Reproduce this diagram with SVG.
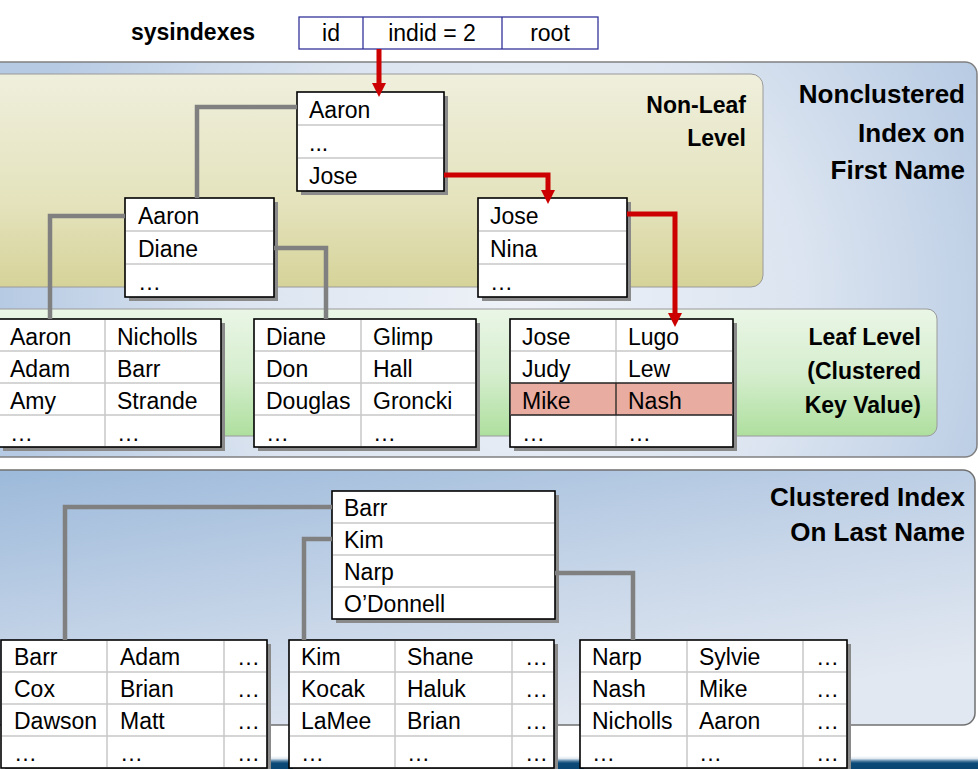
<svg xmlns="http://www.w3.org/2000/svg" width="978" height="769" viewBox="0 0 978 769">
<style>
text{font-family:"Liberation Sans",Arial,sans-serif;fill:#000}
.t{font-size:23px}
.b{font-weight:bold}
.box{fill:#fff;stroke:#000;stroke-width:1.6}
.sh{fill:#8a8a8a}
.rl{stroke:#c8c8c8;stroke-width:1.5;fill:none}
.gc{fill:none;stroke:#808080;stroke-width:4.5}
.rc{fill:none;stroke:#cc0000;stroke-width:5}
.sys{fill:#fff;stroke:#33339a;stroke-width:1.3}
</style>
<defs>
<radialGradient id="gTop" cx="520" cy="300" r="520" gradientUnits="userSpaceOnUse">
<stop offset="0" stop-color="#eef2f8"/>
<stop offset="0.55" stop-color="#dbe4f0"/>
<stop offset="1" stop-color="#b6cae3"/>
</radialGradient>
<linearGradient id="gBot" x1="0" y1="0" x2="0.6" y2="1">
<stop offset="0" stop-color="#9cb9da"/>
<stop offset="0.6" stop-color="#c9d7e9"/>
<stop offset="1" stop-color="#e2e8f1"/>
</linearGradient>
<linearGradient id="gNL" x1="0" y1="0" x2="0" y2="1">
<stop offset="0" stop-color="#efefdd"/>
<stop offset="0.6" stop-color="#e4e3bd"/>
<stop offset="1" stop-color="#d6d399"/>
</linearGradient>
<linearGradient id="gLeaf" x1="0" y1="0" x2="0" y2="1">
<stop offset="0" stop-color="#eaf6e6"/>
<stop offset="0.5" stop-color="#d6eecf"/>
<stop offset="1" stop-color="#aedf9e"/>
</linearGradient>
<linearGradient id="gFoot" x1="0" y1="756" x2="0" y2="769" gradientUnits="userSpaceOnUse">
<stop offset="0" stop-color="#ffffff"/>
<stop offset="0.2" stop-color="#dfe8ef"/>
<stop offset="0.4" stop-color="#4a7aa0"/>
<stop offset="0.55" stop-color="#0b4a78"/>
<stop offset="1" stop-color="#0a4573"/>
</linearGradient>
<marker id="ah" viewBox="0 0 14 14" refX="0" refY="7" markerWidth="14" markerHeight="14" markerUnits="userSpaceOnUse" orient="auto">
<path d="M0,0 L14,7 L0,14 z" fill="#cc0000"/>
</marker>
</defs>

<g id="backgrounds">
<rect x="268" y="756" width="720" height="14" fill="url(#gFoot)"/>
<rect x="-20" y="62" width="997" height="395" rx="12" fill="url(#gTop)" stroke="#808080" stroke-width="1.5"/>
<rect x="-20" y="74" width="783" height="213" rx="12" fill="url(#gNL)" stroke="#9a9a9a" stroke-width="1"/>
<rect x="-20" y="309" width="957" height="127" rx="10" fill="url(#gLeaf)" stroke="#9a9a9a" stroke-width="1"/>
<rect x="-20" y="470" width="995" height="255" rx="12" fill="url(#gBot)" stroke="#707070" stroke-width="1.5"/>
</g>

<g id="labels">
<text class="b" x="131" y="40" font-size="23">sysindexes</text>
<text class="b" font-size="26" text-anchor="end" x="965" y="103">Nonclustered</text>
<text class="b" font-size="26" text-anchor="end" x="965" y="142">Index on</text>
<text class="b" font-size="26" text-anchor="end" x="965" y="179">First Name</text>
<text class="b" font-size="23" text-anchor="end" x="746" y="113">Non-Leaf</text>
<text class="b" font-size="23" text-anchor="end" x="746" y="146">Level</text>
<text class="b" font-size="23" text-anchor="end" x="921" y="345">Leaf Level</text>
<text class="b" font-size="23" text-anchor="end" x="921" y="379">(Clustered</text>
<text class="b" font-size="23" text-anchor="end" x="921" y="413">Key Value)</text>
<text class="b" font-size="26" text-anchor="end" x="965" y="506">Clustered Index</text>
<text class="b" font-size="26" text-anchor="end" x="965" y="541">On Last Name</text>
</g>

<g id="sysindexes-row">
<rect class="sys" x="299" y="17" width="299" height="32"/>
<path d="M363,17V49M502,17V49" stroke="#33339a" stroke-width="1.3"/>
<text class="t" x="331" y="41" text-anchor="middle">id</text>
<text class="t" x="432" y="41" text-anchor="middle">indid = 2</text>
<text class="t" x="550" y="41" text-anchor="middle">root</text>
</g>

<g id="nc-root">
<rect class="sh" x="301" y="96" width="147" height="99"/>
<rect class="box" x="297" y="92" width="147" height="99"/>
<path class="rl" d="M298,125H443M298,158H443"/>
<text class="t" x="309" y="118">Aaron</text>
<text class="t" x="309" y="151">...</text>
<text class="t" x="309" y="184">Jose</text>
</g>

<g id="nc-mid-left">
<rect class="sh" x="129" y="202" width="149" height="99"/>
<rect class="box" x="125" y="198" width="149" height="99"/>
<path class="rl" d="M126,231H273M126,264H273"/>
<text class="t" x="138" y="224">Aaron</text>
<text class="t" x="138" y="257">Diane</text>
<text class="t" x="138" y="290">…</text>
</g>

<g id="nc-mid-right">
<rect class="sh" x="482" y="202" width="149" height="99"/>
<rect class="box" x="478" y="198" width="149" height="99"/>
<path class="rl" d="M479,231H626M479,264H626"/>
<text class="t" x="490" y="224">Jose</text>
<text class="t" x="490" y="257">Nina</text>
<text class="t" x="490" y="290">…</text>
</g>

<g id="leaf-1">
<rect class="sh" x="3" y="323" width="222" height="128"/>
<rect class="box" x="-1" y="319" width="222" height="128"/>
<path class="rl" d="M0,351H220M0,383H220M0,415H220M105,320V446"/>
<text class="t" x="10" y="345">Aaron</text><text class="t" x="117" y="345">Nicholls</text>
<text class="t" x="10" y="377">Adam</text><text class="t" x="117" y="377">Barr</text>
<text class="t" x="10" y="409">Amy</text><text class="t" x="117" y="409">Strande</text>
<text class="t" x="10" y="441">…</text><text class="t" x="117" y="441">…</text>
</g>

<g id="leaf-2">
<rect class="sh" x="258" y="323" width="222" height="128"/>
<rect class="box" x="254" y="319" width="222" height="128"/>
<path class="rl" d="M255,351H475M255,383H475M255,415H475M361,320V446"/>
<text class="t" x="266" y="345">Diane</text><text class="t" x="373" y="345">Glimp</text>
<text class="t" x="266" y="377">Don</text><text class="t" x="373" y="377">Hall</text>
<text class="t" x="266" y="409">Douglas</text><text class="t" x="373" y="409">Groncki</text>
<text class="t" x="266" y="441">…</text><text class="t" x="373" y="441">…</text>
</g>

<g id="leaf-3">
<rect class="sh" x="514" y="323" width="223" height="128"/>
<rect class="box" x="510" y="319" width="223" height="128"/>
<rect x="510.8" y="383" width="221.4" height="32" fill="#e9aca0"/>
<path class="rl" d="M511,351H732M616,320V383M616,415V446"/>
<path d="M511,383H732M511,415H732M616,383V415" stroke="#222" stroke-width="1.3" fill="none"/>
<text class="t" x="522" y="345">Jose</text><text class="t" x="628" y="345">Lugo</text>
<text class="t" x="522" y="377">Judy</text><text class="t" x="628" y="377">Lew</text>
<text class="t" x="522" y="409">Mike</text><text class="t" x="628" y="409">Nash</text>
<text class="t" x="522" y="441">…</text><text class="t" x="628" y="441">…</text>
</g>

<g id="cl-root">
<rect class="sh" x="336" y="495" width="223" height="128"/>
<rect class="box" x="332" y="491" width="223" height="128"/>
<path class="rl" d="M333,523H554M333,555H554M333,587H554"/>
<text class="t" x="344" y="516">Barr</text>
<text class="t" x="344" y="548">Kim</text>
<text class="t" x="344" y="580">Narp</text>
<text class="t" x="344" y="612">O’Donnell</text>
</g>

<g id="cl-leaf-1">
<rect class="sh" x="5" y="644" width="266" height="128"/>
<rect class="box" x="1" y="640" width="266" height="128"/>
<path class="rl" d="M2,672H266M2,704H266M2,736H266M107,641V767M224,641V767"/>
<text class="t" x="14" y="665">Barr</text><text class="t" x="120" y="665">Adam</text><text class="t" x="237" y="665">…</text>
<text class="t" x="14" y="697">Cox</text><text class="t" x="120" y="697">Brian</text><text class="t" x="237" y="697">…</text>
<text class="t" x="14" y="729">Dawson</text><text class="t" x="120" y="729">Matt</text><text class="t" x="237" y="729">…</text>
<text class="t" x="14" y="761">…</text><text class="t" x="120" y="761">…</text><text class="t" x="237" y="761">…</text>
</g>

<g id="cl-leaf-2">
<rect class="sh" x="293" y="644" width="265" height="128"/>
<rect class="box" x="289" y="640" width="265" height="128"/>
<path class="rl" d="M290,672H553M290,704H553M290,736H553M395,641V767M512,641V767"/>
<text class="t" x="301" y="665">Kim</text><text class="t" x="407" y="665">Shane</text><text class="t" x="525" y="665">…</text>
<text class="t" x="301" y="697">Kocak</text><text class="t" x="407" y="697">Haluk</text><text class="t" x="525" y="697">…</text>
<text class="t" x="301" y="729">LaMee</text><text class="t" x="407" y="729">Brian</text><text class="t" x="525" y="729">…</text>
<text class="t" x="301" y="761">…</text><text class="t" x="407" y="761">…</text><text class="t" x="525" y="761">…</text>
</g>

<g id="cl-leaf-3">
<rect class="sh" x="584" y="644" width="267" height="128"/>
<rect class="box" x="580" y="640" width="267" height="128"/>
<path class="rl" d="M581,672H846M581,704H846M581,736H846M687,641V767M803,641V767"/>
<text class="t" x="592" y="665">Narp</text><text class="t" x="699" y="665">Sylvie</text><text class="t" x="816" y="665">…</text>
<text class="t" x="592" y="697">Nash</text><text class="t" x="699" y="697">Mike</text><text class="t" x="816" y="697">…</text>
<text class="t" x="592" y="729">Nicholls</text><text class="t" x="699" y="729">Aaron</text><text class="t" x="816" y="729">…</text>
<text class="t" x="592" y="761">…</text><text class="t" x="699" y="761">…</text><text class="t" x="816" y="761">…</text>
</g>

<g id="connectors">
<path class="gc" d="M297,107H197V198"/>
<path class="gc" d="M125,216H50V319"/>
<path class="gc" d="M274,248H326V319"/>
<path class="gc" d="M332,507H65V640"/>
<path class="gc" d="M332,539H304V640"/>
<path class="gc" d="M555,573H633V640"/>
<path class="rc" d="M379,49V83" marker-end="url(#ah)"/>
<path class="rc" d="M444,175H548V190" marker-end="url(#ah)"/>
<path class="rc" d="M627,214H675V313" marker-end="url(#ah)"/>
</g>
</svg>
